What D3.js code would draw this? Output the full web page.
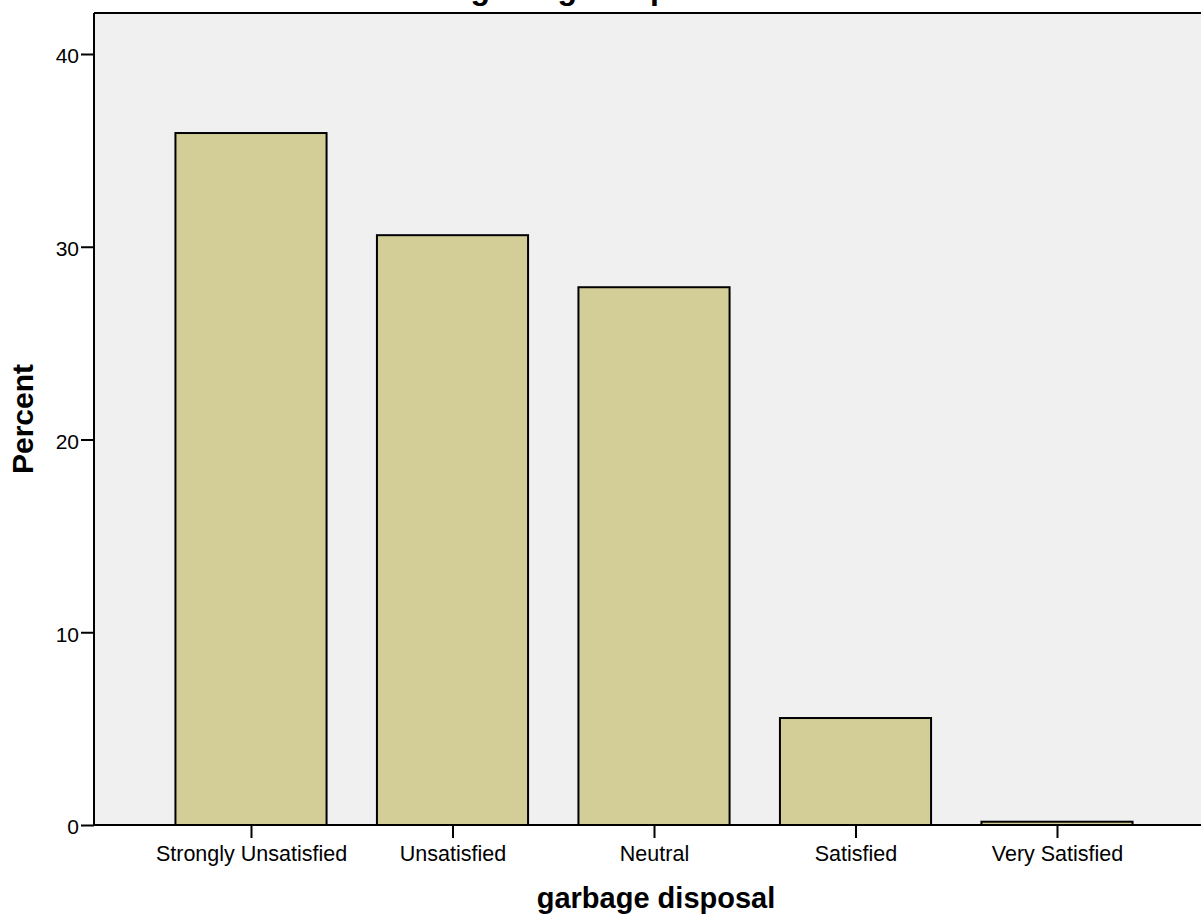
<!DOCTYPE html>
<html>
<head>
<meta charset="utf-8">
<script src="https://cdn.jsdelivr.net/npm/d3@7"></script>
<style>
  html, body { margin: 0; padding: 0; background: #ffffff; }
  svg { display: block; }
  text { font-family: "Liberation Sans", Arial, sans-serif; fill: #000; }
</style>
</head>
<body>
<svg id="chart" width="1201" height="916"></svg>
<script>
const chartTitle = "garbage disposal";
const xTitle = "garbage disposal";
const yTitle = "Percent";
const categories = ["Strongly Unsatisfied", "Unsatisfied", "Neutral", "Satisfied", "Very Satisfied"];
const percentValues = [35.9, 30.6, 27.9, 5.55, 0.17];
const yTickValues = [0, 10, 20, 30, 40];

(function () {
const svg = d3.select("#chart");
const plotLeft = 94, plotBottom = 825, plotRight = 1215;

const y = d3.scaleLinear().domain([0, 40]).range([plotBottom, 54]);
const plotTop = y(42.13);
const x = d3.scalePoint().domain(categories).range([150.25, 1157.75]).padding(0.5);
const barW = x.step() * 0.75;

// plot background
svg.append("rect")
  .attr("x", plotLeft).attr("y", plotTop)
  .attr("width", plotRight - plotLeft).attr("height", plotBottom - plotTop)
  .attr("fill", "#f0f0f0");

// bars
svg.append("g").selectAll("rect")
  .data(categories)
  .join("rect")
  .attr("x", d => x(d) - barW / 2)
  .attr("y", (d, i) => y(percentValues[i]))
  .attr("width", barW)
  .attr("height", (d, i) => plotBottom - y(percentValues[i]))
  .attr("fill", "#d3ce98")
  .attr("stroke", "#000")
  .attr("stroke-width", 2);

// frame top line
svg.append("line").attr("x1", plotLeft).attr("x2", plotRight).attr("y1", plotTop).attr("y2", plotTop)
  .attr("stroke", "#000").attr("stroke-width", 2);

// y axis
const yAxis = d3.axisLeft(y).tickValues(yTickValues).tickSize(13).tickPadding(2).tickFormat(d3.format("d"));
const gy = svg.append("g").attr("transform", `translate(${plotLeft},0)`).call(yAxis);
gy.select(".domain").remove();
gy.selectAll(".tick line").attr("stroke", "#000").attr("stroke-width", 2);
gy.selectAll(".tick text").attr("font-size", "21px").attr("dy", "0.42em")
  .attr("font-family", "Liberation Sans, Arial, sans-serif").attr("fill", "#000");
svg.append("line").attr("x1", plotLeft).attr("x2", plotLeft).attr("y1", plotTop).attr("y2", plotBottom)
  .attr("stroke", "#000").attr("stroke-width", 2);

// x axis
const xAxis = d3.axisBottom(x).tickSize(13).tickPadding(8);
const gx = svg.append("g").attr("transform", `translate(0,${plotBottom})`).call(xAxis);
gx.select(".domain").remove();
gx.selectAll(".tick line").attr("stroke", "#000").attr("stroke-width", 2);
gx.selectAll(".tick text").attr("font-size", "21.5px").attr("dy", "0.71em")
  .attr("font-family", "Liberation Sans, Arial, sans-serif").attr("fill", "#000");
svg.append("line").attr("x1", plotLeft).attr("x2", plotRight).attr("y1", plotBottom).attr("y2", plotBottom)
  .attr("stroke", "#000").attr("stroke-width", 2);

// titles
svg.append("text")
  .attr("x", 602).attr("y", -1)
  .attr("text-anchor", "middle")
  .attr("font-size", "32px").attr("font-weight", "bold")
  .text(chartTitle);

svg.append("text")
  .attr("x", 656).attr("y", 908)
  .attr("text-anchor", "middle")
  .attr("font-size", "29px").attr("font-weight", "bold")
  .text(xTitle);

svg.append("text")
  .attr("transform", "translate(33,419) rotate(-90)")
  .attr("text-anchor", "middle")
  .attr("font-size", "30px").attr("font-weight", "bold")
  .text(yTitle);
})();
</script>
</body>
</html>
